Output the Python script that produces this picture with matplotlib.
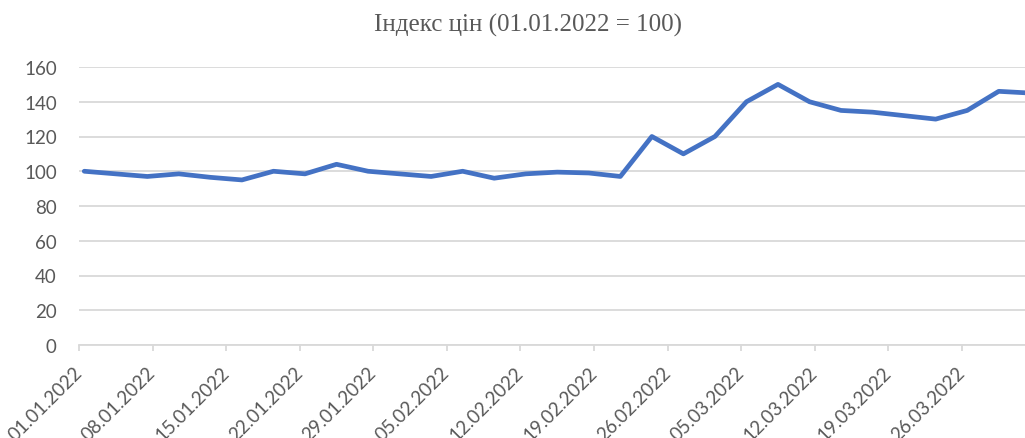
import matplotlib
matplotlib.use('Agg')
import matplotlib.pyplot as plt
import pandas as pd

# Price index sampled every three days, 01.01.2022 = 100
dates = [
    '01.01.2022', '04.01.2022', '07.01.2022', '10.01.2022', '13.01.2022',
    '16.01.2022', '19.01.2022', '22.01.2022', '25.01.2022', '28.01.2022',
    '31.01.2022', '03.02.2022', '06.02.2022', '09.02.2022', '12.02.2022',
    '15.02.2022', '18.02.2022', '21.02.2022', '24.02.2022', '27.02.2022',
    '02.03.2022', '05.03.2022', '08.03.2022', '11.03.2022', '14.03.2022',
    '17.03.2022', '20.03.2022', '23.03.2022', '26.03.2022', '29.03.2022',
    '01.04.2022',
]
index_values = [
    100, 98.5, 97, 98.5, 96.5, 95, 100, 98.5, 104, 100,
    98.5, 97, 100, 96, 98.5, 99.5, 99, 97, 120, 110,
    120, 140, 150, 140, 135, 134, 132, 130, 135, 146,
    145,
]
tick_labels = [
    '01.01.2022', '08.01.2022', '15.01.2022', '22.01.2022', '29.01.2022',
    '05.02.2022', '12.02.2022', '19.02.2022', '26.02.2022', '05.03.2022',
    '12.03.2022', '19.03.2022', '26.03.2022',
]
y_ticks = [0, 20, 40, 60, 80, 100, 120, 140, 160]

GRID = '#d9d9d9'
TEXT = '#595959'
LINE = '#4472c4'

# points sit in the middle of their day, ticks on the day boundary
x = pd.to_datetime(dates, format='%d.%m.%Y') + pd.Timedelta(hours=12)
ticks = pd.to_datetime(tick_labels, format='%d.%m.%Y')

fig = plt.figure(figsize=(10.25, 4.39), dpi=100)
ax = fig.add_axes([79 / 1025, 93 / 439, 946 / 1025, 278 / 439])

ax.plot(x, index_values, color=LINE, linewidth=3.4,
        solid_joinstyle='round', solid_capstyle='round', zorder=3)

ax.set_ylim(0, 160)
ax.set_yticks(y_ticks)
ax.set_xlim(pd.Timestamp('2022-01-01'), pd.Timestamp('2022-04-01'))
ax.set_xticks(ticks)
ax.set_xticklabels(tick_labels)

ax.yaxis.grid(True, color=GRID, linewidth=1.3)
ax.set_axisbelow(True)
for side in ('top', 'left', 'right'):
    ax.spines[side].set_visible(False)
ax.spines['bottom'].set_color(GRID)
ax.spines['bottom'].set_linewidth(1.3)

ax.tick_params(axis='y', length=0, pad=16, labelcolor=TEXT, labelsize=13.5)
ax.tick_params(axis='x', length=4.5, width=1.3, color=GRID, pad=13,
               labelcolor=TEXT, labelsize=13.5)
for lab in ax.get_yticklabels() + ax.get_xticklabels():
    lab.set_family('Lato')
for lab in ax.get_xticklabels():
    lab.set_rotation(45)
    lab.set_ha('right')
    lab.set_va('center')
    lab.set_rotation_mode('anchor')

# title is centred over the full chart area, which runs past the right edge
fig.text(528 / 1025, 1 - 25 / 439, 'Індекс цін (01.01.2022 = 100)',
         ha='center', va='center', family='Liberation Serif',
         fontsize=18, color=TEXT)

fig.savefig('out.png', dpi=100)
